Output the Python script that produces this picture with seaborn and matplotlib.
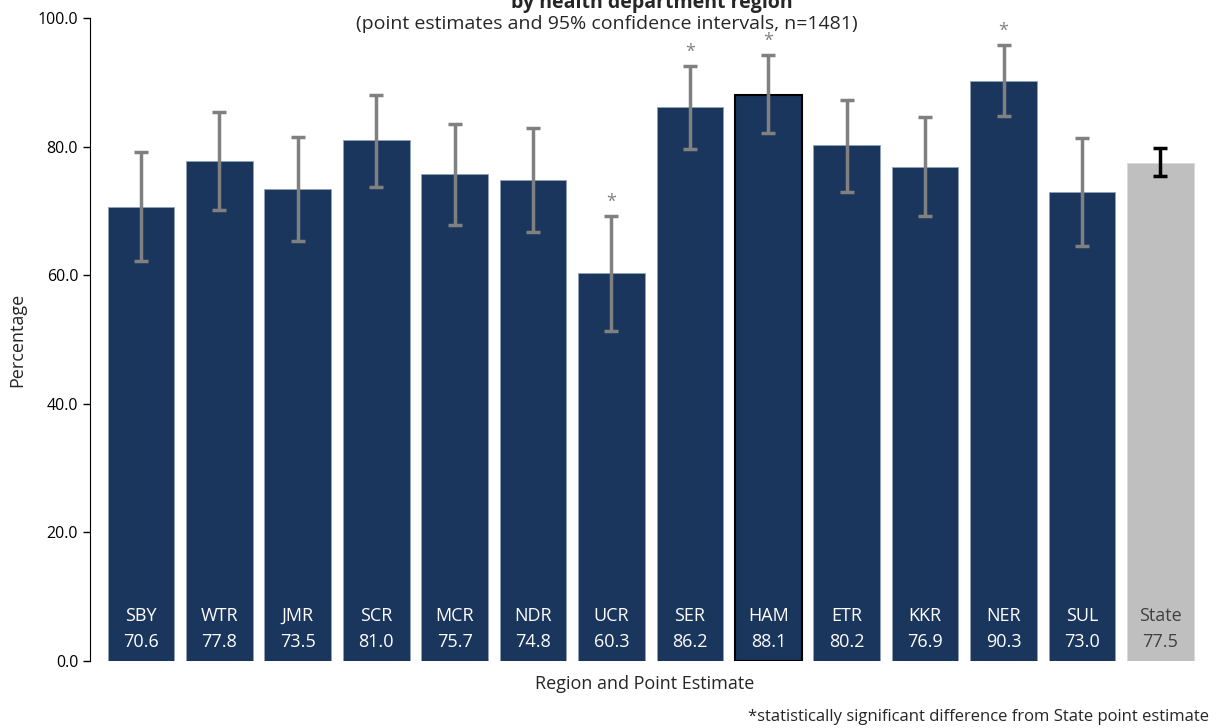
import numpy as np
import pandas as pd
import seaborn as sns
import matplotlib.pyplot as plt

# data
regions = ['SBY', 'WTR', 'JMR', 'SCR', 'MCR', 'NDR', 'UCR', 'SER', 'HAM', 'ETR', 'KKR', 'NER', 'SUL', 'State']
estimates = [70.6, 77.8, 73.5, 81.0, 75.7, 74.8, 60.3, 86.2, 88.1, 80.2, 76.9, 90.3, 73.0, 77.5]
ci_lower = [62.2, 70.2, 65.4, 73.8, 67.9, 66.8, 51.4, 79.7, 82.1, 72.9, 69.2, 84.8, 64.6, 75.4]
ci_upper = [79.2, 85.4, 81.5, 88.0, 83.5, 82.9, 69.2, 92.6, 94.3, 87.2, 84.6, 95.9, 81.3, 79.8]
significant = ['UCR', 'SER', 'HAM', 'NER']

df = pd.DataFrame({'region': regions, 'est': estimates, 'lo': ci_lower, 'hi': ci_upper})

sns.set_style('white')
plt.rcParams['font.family'] = ['Open Sans', 'DejaVu Sans']

navy = '#1B365D'
colors = [navy] * (len(regions) - 1) + ['#BFBFBF']

fig = plt.figure(figsize=(12.18, 7.28), dpi=100)
ax = fig.add_axes([0.0739, 0.092, 0.911, 0.883])

sns.barplot(data=df, x='region', y='est', hue='region', palette=colors, legend=False,
            saturation=1, width=0.85, edgecolor='#8fa0b8', linewidth=0.6, ax=ax)

# HAM bar has a black outline, State bar a light grey one
ham = regions.index('HAM')
ax.patches[ham].set_edgecolor('black')
ax.patches[ham].set_linewidth(1.5)
ax.patches[len(regions) - 1].set_edgecolor('#d9d9d9')

x = np.arange(len(regions))
est = df['est'].values
err = [est - df['lo'].values, df['hi'].values - est]
ax.errorbar(x[:-1], est[:-1], yerr=[err[0][:-1], err[1][:-1]], fmt='none',
            ecolor='#808080', elinewidth=2.5, capsize=5, capthick=2.5)
ax.errorbar(x[-1:], est[-1:], yerr=[err[0][-1:], err[1][-1:]], fmt='none',
            ecolor='black', elinewidth=2.5, capsize=5, capthick=2.5)

for i, r in enumerate(regions):
    tc = '#404040' if r == 'State' else 'white'
    ax.text(i, 7.0, r, ha='center', va='center', color=tc, fontsize=13)
    ax.text(i, 3.0, f'{est[i]:.1f}', ha='center', va='center', color=tc, fontsize=13)
    if r in significant:
        ax.text(i, df['hi'][i] + 0.8, '*', ha='center', va='bottom', color='#808080', fontsize=13)

ax.set_ylim(0, 100)
ax.set_xlim(-0.65, 13.5)
ax.set_yticks(np.arange(0, 101, 20))
ax.set_yticklabels([f'{v:.1f}' for v in range(0, 101, 20)], fontsize=11.5)
ax.set_xticks([])
ax.tick_params(axis='y', direction='out', length=5, width=1, left=True, colors='black')
for s in ['top', 'right', 'bottom']:
    ax.spines[s].set_visible(False)
ax.spines['left'].set_color('black')
ax.set_ylabel('Percentage', fontsize=13, labelpad=8)
ax.set_xlabel('Region and Point Estimate', fontsize=13, labelpad=10)

fig.text(0.535, 0.996, 'by health department region', ha='center', va='center',
         fontsize=14, fontweight='bold')
fig.text(0.498, 0.967, '(point estimates and 95% confidence intervals, n=1481)',
         ha='center', va='center', fontsize=14)
fig.text(0.993, 0.015, '*statistically significant difference from State point estimate',
         ha='right', va='center', fontsize=12)

fig.savefig('out.png', dpi=100)
